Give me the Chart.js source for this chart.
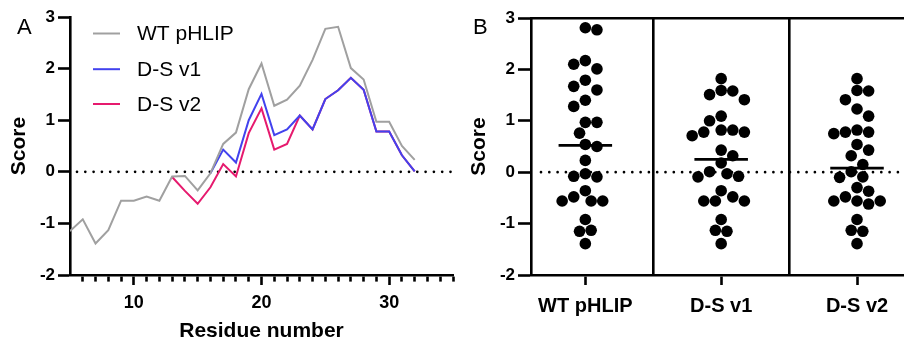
<!DOCTYPE html>
<html><head><meta charset="utf-8">
<script src="https://cdn.jsdelivr.net/npm/chart.js@4.4.1/dist/chart.umd.min.js"></script>
<style>
html,body{margin:0;padding:0;background:#fff;width:909px;height:345px;overflow:hidden}
#wa{position:absolute;left:0;top:0;width:460px;height:345px}
#wb{position:absolute;left:460px;top:0;width:449px;height:345px}
canvas{display:block}
</style></head><body>
<div id="wa"><canvas id="ca" width="460" height="345"></canvas></div>
<div id="wb"><canvas id="cb" width="449" height="345"></canvas></div>
<script>
// ---- data ----
const residues = [5,6,7,8,9,10,11,12,13,14,15,16,17,18,19,20,21,22,23,24,25,26,27,28,29,30,31,32];
const seriesNames = ['WT pHLIP', 'D-S v1', 'D-S v2'];
const wtScores = [-1.15,-0.92,-1.39,-1.13,-0.56,-0.56,-0.48,-0.56,-0.09,-0.08,-0.36,-0.03,0.54,0.76,1.60,2.10,1.28,1.40,1.67,2.17,2.77,2.81,2.01,1.79,0.97,0.97,0.50,0.23];
const v1Scores = [-1.15,-0.92,-1.39,-1.13,-0.56,-0.56,-0.48,-0.56,-0.09,-0.08,-0.36,-0.03,0.43,0.18,1.00,1.51,0.71,0.82,1.09,0.82,1.41,1.58,1.82,1.59,0.78,0.78,0.32,0.01];
const v2Scores = [-1.15,-0.92,-1.39,-1.13,-0.56,-0.56,-0.48,-0.56,-0.10,-0.37,-0.62,-0.30,0.15,-0.09,0.75,1.23,0.43,0.54,1.09,0.82,1.41,1.58,1.82,1.59,0.78,0.78,0.32,0.01];
const yTicks = [-2,-1,0,1,2,3];
const xRange = [5, 35];
const xMajorEvery = 10;
const panelLetters = ['A', 'B'];

// ---- styles ----
const FONT = '"Liberation Sans", Arial, Helvetica, sans-serif';
Chart.defaults.font.family = FONT;
Chart.defaults.color = '#000';
const lineColors = ['rgb(160,160,160)', 'rgb(66,66,238)', 'rgb(230,26,110)'];
const AXW = 2.6;
const TICK_FONT = {size: 17, weight: 'bold'};

const zeroLine = {
  id: 'zeroLine',
  beforeDatasetsDraw(chart, args, opts) {
    const {ctx, chartArea: a, scales: {y}} = chart;
    const py = y.getPixelForValue(0);
    ctx.save();
    ctx.beginPath();
    ctx.setLineDash([0, 8.3]);
    ctx.lineCap = 'round';
    ctx.lineWidth = 2.7;
    ctx.strokeStyle = '#000';
    ctx.moveTo(a.left + opts.start, py);
    ctx.lineTo(a.right, py);
    ctx.stroke();
    ctx.restore();
  }
};
const panelLetter = {
  id: 'panelLetter',
  afterDraw(chart, args, opts) {
    const ctx = chart.ctx;
    ctx.save();
    ctx.font = '22px ' + FONT;
    ctx.fillStyle = '#000';
    ctx.textBaseline = 'alphabetic';
    ctx.fillText(opts.text, opts.x, opts.y);
    ctx.restore();
  }
};
const lineLegend = {
  id: 'lineLegend',
  afterDraw(chart) {
    const ctx = chart.ctx;
    const rowsY = [33.5, 69.2, 104];
    ctx.save();
    ctx.font = '21px ' + FONT;
    ctx.textBaseline = 'middle';
    chart.data.datasets.forEach((d, i) => {
      ctx.beginPath();
      ctx.strokeStyle = d.borderColor;
      ctx.lineWidth = 2;
      ctx.moveTo(93, rowsY[i]);
      ctx.lineTo(120, rowsY[i]);
      ctx.stroke();
      ctx.fillStyle = '#000';
      ctx.fillText(d.label, 137, rowsY[i] + 1.2);
    });
    ctx.restore();
  }
};

function yAxis(width, tl) {
  return {
    min: -2, max: 3,
    afterBuildTicks: s => { s.ticks = yTicks.map(v => ({value: v})); },
    ticks: {font: TICK_FONT, color: '#000', padding: 3},
    grid: {drawOnChartArea: false, tickLength: tl, tickWidth: AXW, tickColor: '#000'},
    border: {color: '#000', width: AXW},
    title: {display: true, text: 'Score', font: {size: 21, weight: 'bold'}, color: '#000', padding: {top: 7, bottom: 0}},
    afterFit: s => { s.width = width; }
  };
}

// ---- Panel A ----
const seriesA = [wtScores, v1Scores, v2Scores];
// hide a variant's segment where it runs exactly on top of the WT trace
function sameAsWT(s, ctx) {
  const i0 = ctx.p0DataIndex, i1 = ctx.p1DataIndex;
  return Math.abs(s[i0] - wtScores[i0]) < 0.025 && Math.abs(s[i1] - wtScores[i1]) < 0.025;
}
new Chart(document.getElementById('ca'), {
  type: 'line',
  data: {
    datasets: seriesA.map((s, i) => ({
      label: seriesNames[i],
      data: residues.map((r, j) => ({x: r, y: s[j]})),
      borderColor: lineColors[i],
      borderWidth: 2,
      pointRadius: 0,
      tension: 0,
      fill: false,
      segment: i === 0 ? {} : {borderColor: c => (sameAsWT(s, c) ? 'rgba(0,0,0,0)' : undefined)}
    }))
  },
  options: {
    animation: false, responsive: false, events: [],
    layout: {padding: {top: 17, right: 5, left: 0, bottom: 0}},
    plugins: {legend: {display: false}, tooltip: {enabled: false},
      zeroLine: {start: 7}, panelLetter: {text: panelLetters[0], x: 17, y: 33.5}},
    scales: {
      x: {
        type: 'linear', min: xRange[0], max: xRange[1],
        afterBuildTicks: s => { const t = []; for (let v = xRange[0]; v <= xRange[1]; v++) t.push({value: v}); s.ticks = t; },
        ticks: {autoSkip: false, maxRotation: 0, font: {size: 18, weight: 'bold'}, color: '#000', padding: 7,
          callback: v => (v % xMajorEvery === 0 ? String(v) : '')},
        grid: {drawOnChartArea: false, tickLength: 10, tickWidth: AXW,
          tickColor: c => (c.tick && c.tick.value === xRange[0] ? 'rgba(0,0,0,0)' : '#000'),
          tickBorderDash: c => (c.tick && c.tick.value % xMajorEvery === 0 ? [] : [5, 40])},
        border: {color: '#000', width: AXW},
        title: {display: true, text: 'Residue number', font: {size: 21, weight: 'bold'}, color: '#000', padding: {top: 0, bottom: 1}},
        afterFit: s => { s.height = 70; }
      },
      y: yAxis(70, 12)
    }
  },
  plugins: [zeroLine, panelLetter, lineLegend]
});

// ---- Panel B ----
const groups = [wtScores, v1Scores, v2Scores];
function median(a) {
  const s = a.slice().sort((p, q) => p - q);
  const n = s.length;
  return n % 2 ? s[(n - 1) / 2] : (s[n / 2 - 1] + s[n / 2]) / 2;
}
const medianLines = {
  id: 'medianLines',
  afterDatasetsDraw(chart) {
    const {ctx, scales: {x, y}} = chart;
    ctx.save();
    ctx.strokeStyle = '#000';
    ctx.lineWidth = 2.8;
    groups.forEach((g, i) => {
      const py = y.getPixelForValue(median(g));
      ctx.beginPath();
      ctx.moveTo(x.getPixelForValue(i - 0.197), py);
      ctx.lineTo(x.getPixelForValue(i + 0.197), py);
      ctx.stroke();
    });
    ctx.restore();
  }
};
const DOT_R = 5.8;
const xB = {min: -0.4, max: 2.34};
const chartB = new Chart(document.getElementById('cb'), {
  type: 'scatter',
  data: {
    datasets: groups.map((g, i) => ({
      label: seriesNames[i],
      data: g.map(v => ({x: i, y: v})),
      backgroundColor: '#000', borderColor: '#000',
      pointRadius: DOT_R, pointBorderWidth: 0, pointHoverRadius: DOT_R
    }))
  },
  options: {
    animation: false, responsive: false, events: [],
    layout: {padding: {top: 18, right: 0, left: 0, bottom: 0}},
    plugins: {legend: {display: false}, tooltip: {enabled: false},
      zeroLine: {start: 10}, panelLetter: {text: panelLetters[1], x: 13, y: 34}},
    scales: {
      x: {
        type: 'linear', position: 'bottom', min: xB.min, max: xB.max,
        afterBuildTicks: s => { s.ticks = seriesNames.map((n, i) => ({value: i})); },
        ticks: {autoSkip: false, maxRotation: 0, font: {size: 20, weight: 'bold'}, color: '#000', padding: 9,
          callback: v => seriesNames[v]},
        grid: {drawOnChartArea: false, tickLength: 10, tickWidth: AXW, tickColor: '#000'},
        border: {color: '#000', width: AXW},
        afterFit: s => { s.height = 70; }
      },
      sep: {
        type: 'linear', position: 'bottom', min: xB.min, max: xB.max,
        afterBuildTicks: s => { s.ticks = seriesNames.slice(1).map((n, i) => ({value: i + 0.5})); },
        ticks: {display: false},
        grid: {drawOnChartArea: true, drawTicks: false, color: '#000', lineWidth: AXW},
        border: {display: false},
        afterFit: s => { s.height = 0; }
      },
      topEdge: {
        type: 'linear', position: 'top', min: xB.min, max: xB.max,
        ticks: {display: false},
        grid: {display: false},
        border: {display: true, color: '#000', width: AXW},
        afterFit: s => { s.height = 0; }
      },
      y: yAxis(71, 13)
    }
  },
  plugins: [zeroLine, panelLetter, medianLines]
});

// beeswarm layout computed from the chart's own scales
function swarmOffsets(values, yPix, diam) {
  const order = values.map((v, i) => i).sort((a, b) => values[b] - values[a]);
  const placed = [];
  const off = new Array(values.length).fill(0);
  const h = diam / 2;
  let flip = 1;
  for (const i of order) {
    const py = yPix(values[i]);
    for (let k = 0; k < 60; k++) {
      const cands = k === 0 ? [0] : [flip * k * h, -flip * k * h];
      let ok = null;
      for (const c of cands) {
        if (placed.every(p => Math.hypot(p.x - c, p.y - py) >= diam - 0.05)) { ok = c; break; }
      }
      if (ok !== null) {
        off[i] = ok;
        if (ok !== 0) flip = -Math.sign(ok);
        placed.push({x: ok, y: py});
        break;
      }
    }
  }
  return off;
}
(function () {
  const sx = chartB.scales.x, sy = chartB.scales.y;
  const pxPerUnit = sx.getPixelForValue(1) - sx.getPixelForValue(0);
  groups.forEach((g, i) => {
    const off = swarmOffsets(g, v => sy.getPixelForValue(v), DOT_R * 2);
    chartB.data.datasets[i].data = g.map((v, j) => ({x: i + off[j] / pxPerUnit, y: v}));
  });
  chartB.update('none');
})();
</script>
</body></html>
